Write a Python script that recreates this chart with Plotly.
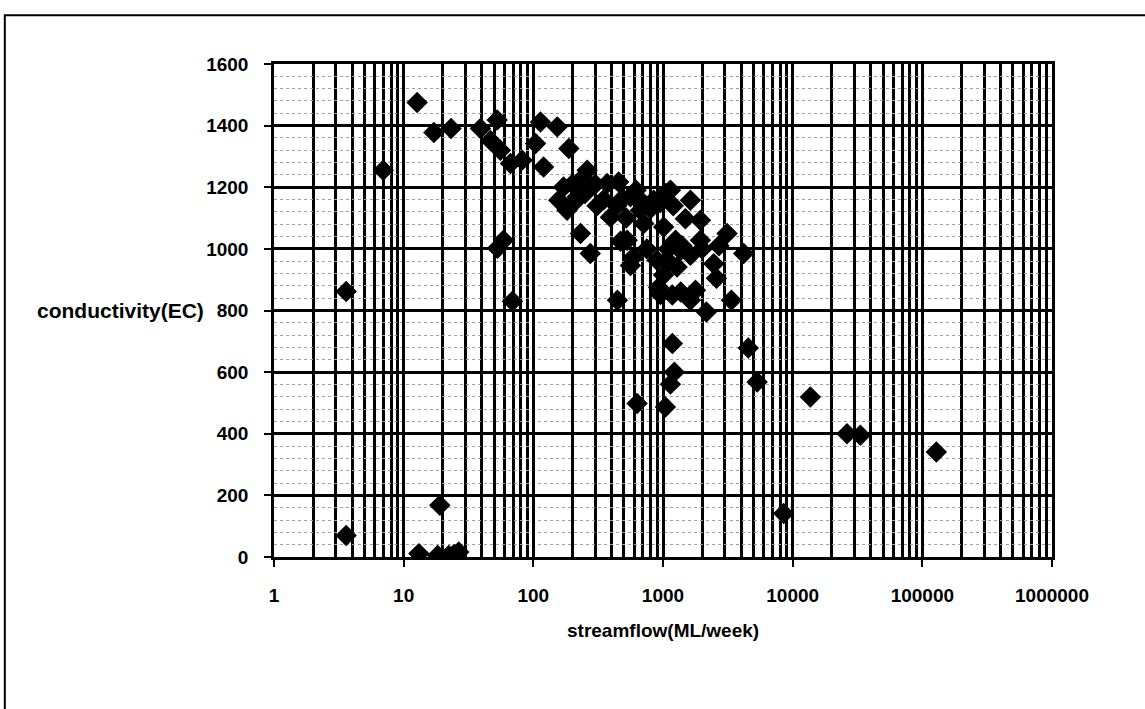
import plotly.graph_objects as go

# Weekly streamflow (ML/week) against conductivity (EC)
streamflow = [
    3.6, 3.6, 6.95, 12.7, 17.1, 23.2, 13.1, 18.3, 22.3, 26.6, 19.0, 24.5,
    39.1, 46.7, 52.6, 55.7, 66.6, 82, 104, 113.5, 153, 188, 120, 171,
    260, 371, 455, 218, 157, 182, 231, 275, 393, 561, 670, 848,
    1141, 1627, 1488, 1943, 1012, 710, 529, 594, 900, 1284, 2462, 3119,
    4189, 1943, 52.9, 58.9, 69, 445, 561, 955, 1181, 1224, 1141, 1044,
    631, 4550, 5318, 2582, 3367, 2160, 8530, 13700, 26250, 33270, 128200,
    1370, 1627, 1250, 1100, 1010, 925, 1370, 1627, 1780, 1100, 1200,
    1400, 750, 800, 300, 350, 250, 200, 205, 240, 310, 440, 520, 700,
    950, 1050, 480, 620, 1180, 2000, 2700, 470,
]
conductivity = [
    862, 70, 1255, 1475, 1378, 1391, 11, 5, 5, 16, 168, 8,
    1391, 1352, 1418, 1320, 1277, 1288, 1342, 1412, 1396, 1326, 1266, 1201,
    1255, 1212, 1217, 1169, 1158, 1125, 1050, 985, 1103, 1169, 1125, 1158,
    1190, 1158, 1098, 1093, 1071, 1082, 1028, 974, 963, 941, 952, 1050,
    985, 1028, 1002, 1028, 830, 833, 946, 852, 693, 600, 561, 487,
    498, 678, 568, 905, 833, 795, 141, 519, 400, 395, 341,
    995, 979, 1028, 960, 915, 875, 860, 833, 866, 1000, 1140,
    1010, 1000, 1130, 1210, 1160, 1180, 1210, 1150, 1230, 1140, 1140, 1100, 1150,
    1150, 1180, 1160, 1190, 850, 1000, 1010, 1025,
]

x_tickvals = [1, 10, 100, 1000, 10000, 100000, 1000000]
x_ticktext = ["1", "10", "100", "1000", "10000", "100000", "1000000"]
y_tickvals = [0, 200, 400, 600, 800, 1000, 1200, 1400, 1600]

FONT = "Liberation Sans, Arial, Helvetica, sans-serif"
label_font = dict(family=FONT, size=19, color="black", weight="bold")
ytitle_font = dict(family=FONT, size=21, color="black", weight="bold")

fig = go.Figure(
    go.Scatter(
        x=streamflow,
        y=conductivity,
        mode="markers",
        marker=dict(symbol="diamond", size=16.5, color="black",
                    line=dict(width=0)),
        hoverinfo="x+y",
    )
)

fig.update_layout(
    width=1145,
    height=709,
    margin=dict(l=274, r=93, t=64, b=152),
    paper_bgcolor="white",
    plot_bgcolor="white",
    showlegend=False,
    font=dict(family=FONT, color="black"),
    xaxis=dict(
        type="log",
        range=[0, 6],
        tickmode="array",
        tickvals=x_tickvals,
        ticktext=x_ticktext,
        tickfont=label_font,
        ticks="outside",
        ticklen=7,
        tickwidth=1.5,
        tickcolor="black",
        ticklabelstandoff=12,
        showgrid=True,
        gridcolor="black",
        gridwidth=2.6,
        minor=dict(
            tickmode="linear",
            dtick="D1",
            showgrid=True,
            gridcolor="black",
            gridwidth=2.6,
            ticks="",
        ),
        showline=True,
        linecolor="black",
        linewidth=2.5,
        mirror=True,
        zeroline=False,
    ),
    yaxis=dict(
        range=[0, 1600],
        tickmode="array",
        tickvals=y_tickvals,
        tickfont=label_font,
        ticks="outside",
        ticklen=7,
        tickwidth=1.5,
        tickcolor="black",
        ticklabelstandoff=12,
        showgrid=True,
        gridcolor="black",
        gridwidth=2.6,
        minor=dict(
            dtick=40,
            showgrid=True,
            gridcolor="#a0a0a0",
            gridwidth=1,
            griddash="dot",
            ticks="",
        ),
        showline=True,
        linecolor="black",
        linewidth=2.5,
        mirror=True,
        zeroline=False,
    ),
    annotations=[
        dict(text="conductivity(EC)", xref="paper", yref="paper",
             x=-0.197, y=0.5, xanchor="center", yanchor="middle",
             showarrow=False, font=ytitle_font),
        dict(text="streamflow(ML/week)", xref="paper", yref="paper",
             x=0.5, y=-0.150, xanchor="center", yanchor="middle",
             showarrow=False, font=label_font),
    ],
    shapes=[
        # outer chart-area frame
        dict(type="rect", xref="paper", yref="paper",
             x0=-0.346, x1=1.13, y0=-0.33, y1=1.099,
             line=dict(color="black", width=2), fillcolor="rgba(0,0,0,0)",
             layer="below"),
    ],
)

fig.write_html("out.html")
